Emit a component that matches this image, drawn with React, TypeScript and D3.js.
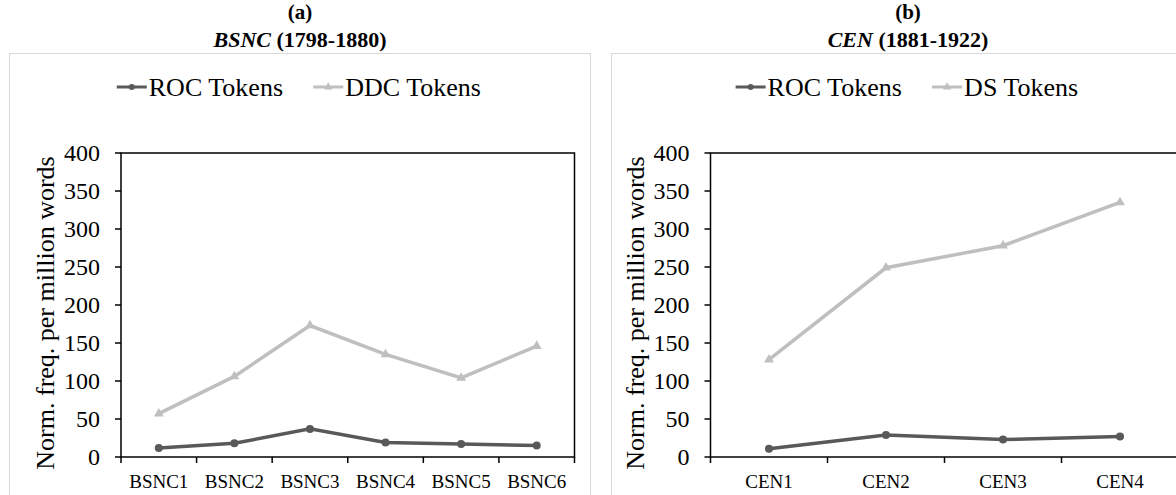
import React from "react";
import * as d3 from "d3";

// panel (a)
const bsncCategories = ["BSNC1", "BSNC2", "BSNC3", "BSNC4", "BSNC5", "BSNC6"];
const bsncRoc = [12, 18, 37, 19, 17, 15];
const bsncDdc = [57, 106, 173, 135, 104, 146];

// panel (b)
const cenCategories = ["CEN1", "CEN2", "CEN3", "CEN4"];
const cenRoc = [11, 29, 23, 27];
const cenDs = [128, 249, 278, 335];

const yTicks = [0, 50, 100, 150, 200, 250, 300, 350, 400];

const FONT = "'Liberation Serif', 'Times New Roman', serif";
const DARK = "#595959";
const LIGHT = "#bfbfbf";

// rough Times advance widths (em) for legend layout
const EM: Record<string, number> = {
  R: 0.667, O: 0.722, C: 0.667, T: 0.611, D: 0.722, S: 0.556,
  o: 0.5, k: 0.5, e: 0.444, n: 0.5, s: 0.389, " ": 0.25,
};
const textW = (s: string, fs: number) =>
  s.split("").reduce((a, ch) => a + (EM[ch] ?? 0.5), 0) * fs;

type PanelProps = {
  label: string;
  titleItalic: string;
  titleRest: string;
  categories: string[];
  dark: number[];
  light: number[];
  darkName: string;
  lightName: string;
  boxX: number;
  boxW: number;
  plotX0: number;
  plotX1: number;
  center: number;
};

const Panel = (p: PanelProps) => {
  const top = 153;
  const bottom = 457;
  const x = d3.scaleBand().domain(p.categories).range([p.plotX0, p.plotX1]);
  const y = d3.scaleLinear().domain([0, 400]).range([bottom, top]);
  const cx = (c: string) => (x(c) as number) + x.bandwidth() / 2;

  const line = d3
    .line<number>()
    .x((_, i) => cx(p.categories[i]))
    .y((d) => y(d));

  const tri = d3.symbol(d3.symbolTriangle, 42)() as string;
  const triSmall = d3.symbol(d3.symbolTriangle, 30)() as string;

  // legend layout
  const fs = 26;
  const sw = 30; // sample line width
  const darkW = textW(p.darkName, fs);
  const lightW = textW(p.lightName, fs);
  const gap = 28;
  const total = sw + 2 + darkW + gap + sw + 2 + lightW;
  const lx = p.center - total / 2;
  const lx2 = lx + sw + 2 + darkW + gap;
  const ly = 87;

  const boundaries = [...p.categories.map((c) => x(c) as number), p.plotX1];

  return (
    <g>
      <text x={p.center} y={19} textAnchor="middle" fontWeight="bold" fontSize={21} fontFamily={FONT}>
        {p.label}
      </text>
      <text x={p.center} y={47} textAnchor="middle" fontWeight="bold" fontSize={22} fontFamily={FONT}>
        <tspan fontStyle="italic">{p.titleItalic}</tspan>
        {p.titleRest}
      </text>
      <rect x={p.boxX + 0.5} y={53.5} width={p.boxW} height={500} fill="none" stroke="#d9d9d9" />

      {/* legend */}
      <g fontFamily={FONT} fontSize={fs}>
        <line x1={lx} x2={lx + sw} y1={ly} y2={ly} stroke={DARK} strokeWidth={3} />
        <circle cx={lx + sw / 2} cy={ly} r={3} fill={DARK} />
        <text x={lx + sw + 2} y={ly + 9}>{p.darkName}</text>
        <line x1={lx2} x2={lx2 + sw} y1={ly} y2={ly} stroke={LIGHT} strokeWidth={3} />
        <path d={triSmall} transform={`translate(${lx2 + sw / 2},${ly})`} fill={LIGHT} />
        <text x={lx2 + sw + 2} y={ly + 9}>{p.lightName}</text>
      </g>

      {/* frame */}
      <rect x={p.plotX0} y={top} width={p.plotX1 - p.plotX0} height={bottom - top} fill="none" stroke="#000" strokeWidth={1.5} />

      {/* y axis */}
      {yTicks.map((t) => (
        <g key={t}>
          <line x1={p.plotX0 - 6} x2={p.plotX0} y1={y(t)} y2={y(t)} stroke="#000" strokeWidth={1.5} />
          <text x={p.plotX0 - 21} y={y(t) + 8} textAnchor="end" fontSize={24} fontFamily={FONT}>
            {t}
          </text>
        </g>
      ))}
      <text
        transform={`translate(${p.plotX0 - 67},${(top + bottom) / 2 + 8}) rotate(-90)`}
        textAnchor="middle"
        fontSize={26}
        fontFamily={FONT}
      >
        Norm. freq. per million words
      </text>

      {/* x axis */}
      {boundaries.map((b, i) => (
        <line key={i} x1={b} x2={b} y1={bottom} y2={bottom + 6} stroke="#000" strokeWidth={1.5} />
      ))}
      {p.categories.map((c) => (
        <text key={c} x={cx(c)} y={488} textAnchor="middle" fontSize={19} fontFamily={FONT}>
          {c}
        </text>
      ))}

      {/* series */}
      <path d={line(p.light) as string} fill="none" stroke={LIGHT} strokeWidth={3.5} />
      {p.light.map((v, i) => (
        <path key={i} d={tri} transform={`translate(${cx(p.categories[i])},${y(v)})`} fill={LIGHT} />
      ))}
      <path d={line(p.dark) as string} fill="none" stroke={DARK} strokeWidth={3.5} />
      {p.dark.map((v, i) => (
        <circle key={i} cx={cx(p.categories[i])} cy={y(v)} r={4} fill={DARK} />
      ))}
    </g>
  );
};

export default function App() {
  return (
    <svg
      width={1176}
      height={495}
      style={{ position: "absolute", left: 0, top: 0, background: "#fff" }}
    >
      <Panel
        label="(a)"
        titleItalic="BSNC"
        titleRest=" (1798-1880)"
        categories={bsncCategories}
        dark={bsncRoc}
        light={bsncDdc}
        darkName="ROC Tokens"
        lightName="DDC Tokens"
        boxX={9}
        boxW={581}
        plotX0={121}
        plotX1={574.5}
        center={300}
      />
      <Panel
        label="(b)"
        titleItalic="CEN"
        titleRest=" (1881-1922)"
        categories={cenCategories}
        dark={cenRoc}
        light={cenDs}
        darkName="ROC Tokens"
        lightName="DS Tokens"
        boxX={611}
        boxW={600}
        plotX0={710.5}
        plotX1={1178.5}
        center={908}
      />
    </svg>
  );
}
